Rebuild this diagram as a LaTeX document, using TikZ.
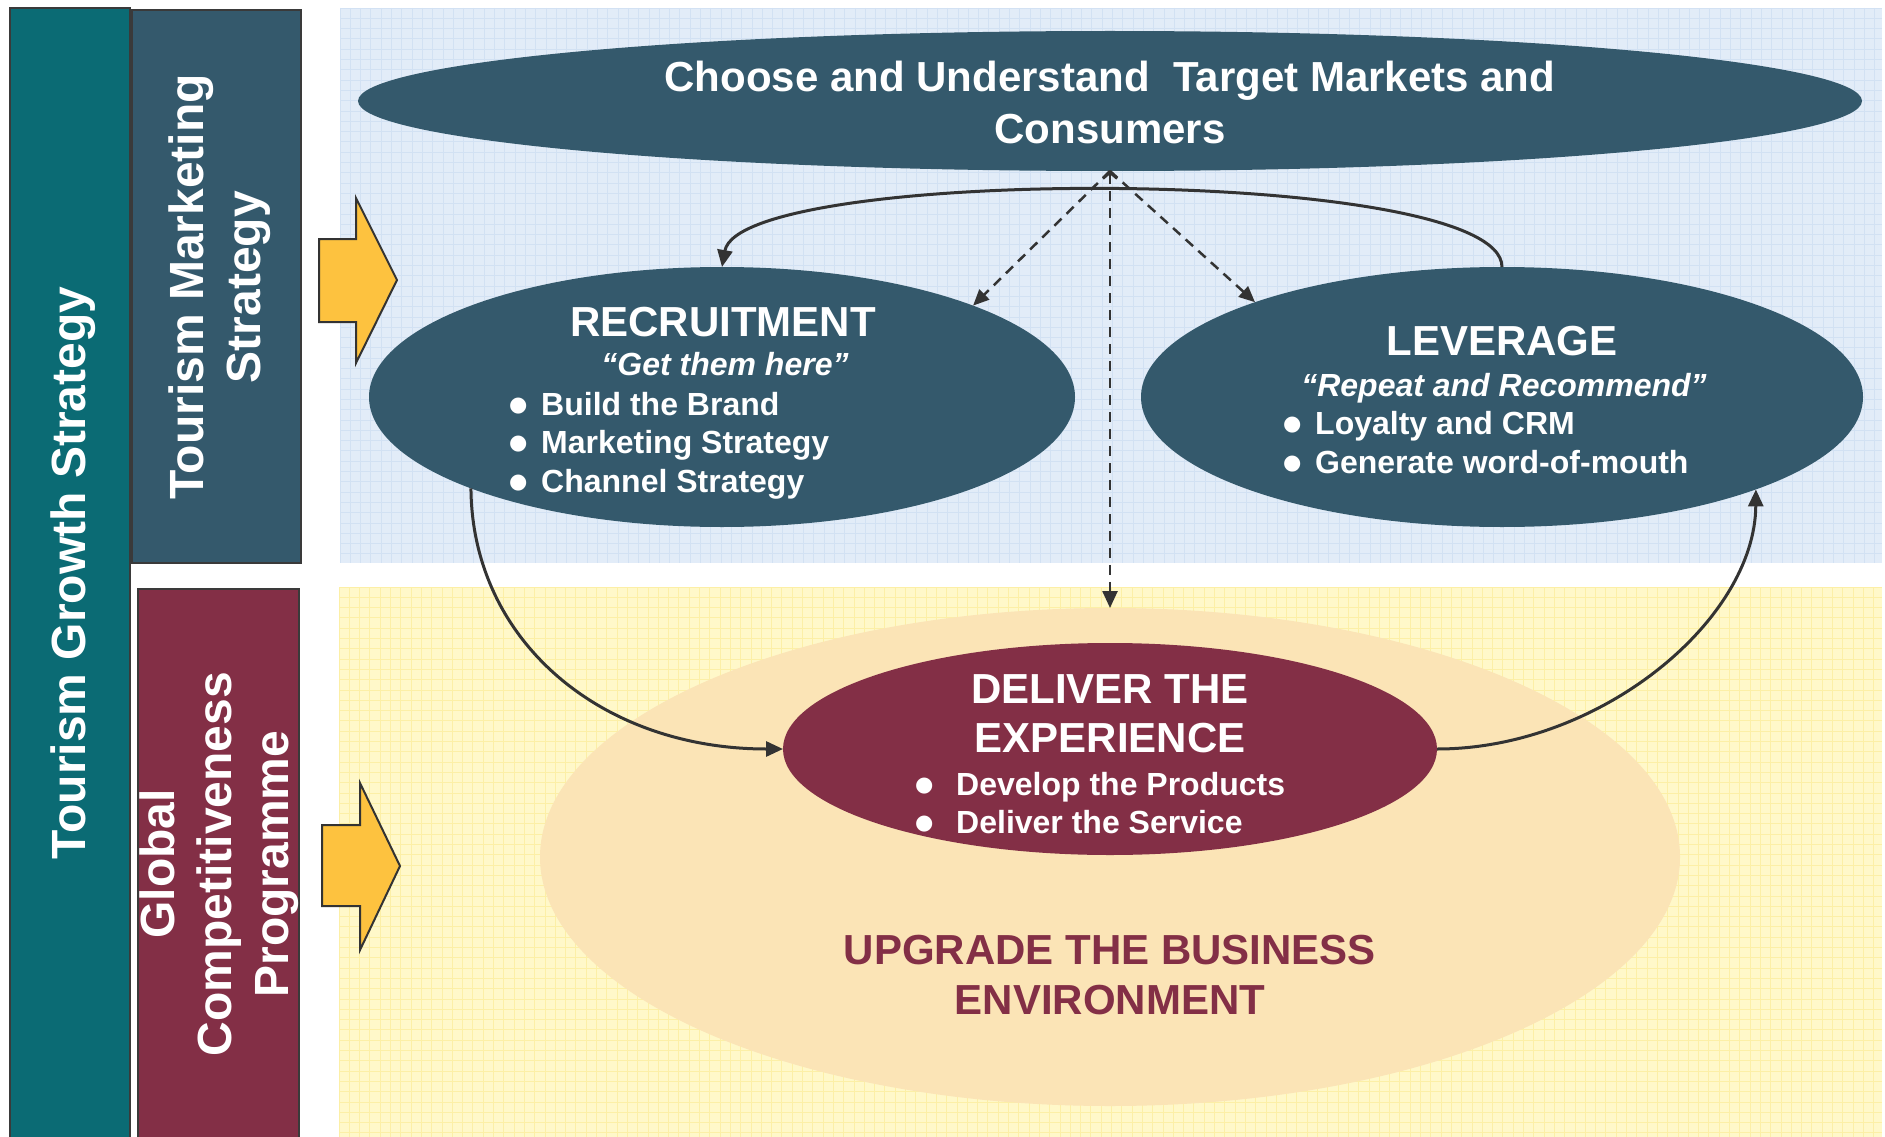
\documentclass[tikz,border=0pt]{standalone}
\usepackage{fontspec}
\setmainfont{Liberation Sans}
\newfontfamily\symfont{DejaVu Sans}
\usetikzlibrary{arrows.meta,shapes.geometric}
\definecolor{tealc}{HTML}{0B6B74}
\definecolor{slatec}{HTML}{34596C}
\definecolor{maroonc}{HTML}{832F46}
\definecolor{beigec}{HTML}{FBE4B6}
\definecolor{arrowc}{HTML}{FDC23F}
\definecolor{linec}{HTML}{333333}
\definecolor{edgec}{HTML}{3A3A3A}
\definecolor{bluebg}{HTML}{E2ECF8}
\definecolor{bluegrid}{HTML}{D2E1F3}
\definecolor{yellowbg}{HTML}{FFF8C9}
\definecolor{yellowgrid}{HTML}{FCEFA6}
\newcommand{\bigbul}{\raisebox{4pt}{\symfont\fontsize{21}{21}\selectfont ●}}
\begin{document}
\begin{tikzpicture}[x=1pt,y=-1pt,
  sidebox/.style={draw=edgec, line width=2pt},
  ell/.style={ellipse, inner sep=0pt, outer sep=0pt, fill=#1},
  vtext/.style={text=white, inner sep=0pt, rotate=90, align=center,
    font=\fontsize{48}{57}\selectfont\bfseries},
  headtext/.style={text=white, inner sep=0pt, anchor=base, align=center,
    font=\fontsize{42}{51}\selectfont\bfseries},
  quotetext/.style={text=white, inner sep=0pt, anchor=base,
    font=\fontsize{32}{38}\selectfont\bfseries\itshape},
  bultext/.style={text=white, inner sep=0pt, anchor=base west,
    font=\fontsize{32}{38}\selectfont\bfseries},
  blockarrow/.style={fill=arrowc, draw=linec, line width=2pt, line join=miter},
  conn/.style={draw=linec, line width=3pt, -{Triangle[length=17pt,width=15pt]}},
  dconn/.style={draw=linec, line width=2.5pt, dash pattern=on 10pt off 7pt,
    -{Triangle[length=16pt,width=14pt]}}
]
\clip (0,0) rectangle (1885,1137);
\fill[white] (0,0) rectangle (1885,1137);

% background panels with grid
\fill[bluebg] (340,8) rectangle (1882,563);
\begin{scope}
  \clip (340,8) rectangle (1882,563);
  \foreach \gx in {340,350.3,...,1885} \draw[bluegrid, line width=0.9pt] (\gx,8) -- (\gx,563);
  \foreach \gy in {8,18.3,...,563} \draw[bluegrid, line width=0.9pt] (340,\gy) -- (1882,\gy);
\end{scope}
\fill[yellowbg] (339,587) rectangle (1882,1137);
\begin{scope}
  \clip (339,587) rectangle (1882,1137);
  \foreach \gx in {339,349.3,...,1885} \draw[yellowgrid, line width=0.9pt] (\gx,587) -- (\gx,1137);
  \foreach \gy in {587,597.3,...,1137} \draw[yellowgrid, line width=0.9pt] (339,\gy) -- (1882,\gy);
\end{scope}

% side boxes
\draw[sidebox, fill=tealc] (10,8) rectangle (130,1145);
\draw[sidebox, fill=slatec] (132,10) rectangle (301,563);
\draw[sidebox, fill=maroonc] (138,589) rectangle (299,1145);
\node[vtext] (tgs) at (73,573) {Tourism Growth Strategy};
\node[vtext] (tms) at (220,287) {Tourism Marketing\\Strategy};
\node[vtext] (gcp) at (219,864) {Global\\Competitiveness\\Programme};

% block arrows
\draw[blockarrow] (319,239) -- (356,239) -- (356,198) -- (397,280) -- (356,363) -- (356,322) -- (319,322) -- cycle;
\draw[blockarrow] (322,825) -- (360,825) -- (360,783) -- (400,866) -- (360,950) -- (360,906) -- (322,906) -- cycle;

% ellipses
\node[ell=beigec, minimum width=1140pt, minimum height=498pt] (env) at (1110,857) {};
\node[ell=slatec, minimum width=1504pt, minimum height=140pt] (top) at (1110,101) {};
\node[ell=slatec, minimum width=706pt, minimum height=260pt] (rec) at (722,397) {};
\node[ell=slatec, minimum width=722pt, minimum height=260pt] (lev) at (1502,397) {};
\node[ell=maroonc, minimum width=654pt, minimum height=212pt] (del) at (1110,749) {};

% texts
\node[headtext] (toptxt1) at (1110,92) {Choose and Understand~ Target Markets and};
\node[headtext] (toptxt2) at (1110,144) {Consumers};

\node[headtext] (rectitle) at (723,336) {RECRUITMENT};
\node[quotetext] (recq) at (725,375) {“Get them here”};
\node[bultext] (recb1) at (509,415) {\makebox[32pt][l]{\bigbul}Build the Brand};
\node[bultext] (recb2) at (509,453) {\makebox[32pt][l]{\bigbul}Marketing Strategy};
\node[bultext] (recb3) at (509,492) {\makebox[32pt][l]{\bigbul}Channel Strategy};

\node[headtext] (levtitle) at (1502,355) {LEVERAGE};
\node[quotetext] (levq) at (1504,396) {“Repeat and Recommend”};
\node[bultext] (levb1) at (1283,434) {\makebox[32pt][l]{\bigbul}Loyalty and CRM};
\node[bultext] (levb2) at (1283,473) {\makebox[32pt][l]{\bigbul}Generate word-of-mouth};

\node[headtext] (deltitle1) at (1110,703) {DELIVER THE};
\node[headtext] (deltitle2) at (1110,752) {EXPERIENCE};
\node[bultext] (delb1) at (915,795) {\makebox[41pt][l]{\bigbul}Develop the Products};
\node[bultext] (delb2) at (915,833) {\makebox[41pt][l]{\bigbul}Deliver the Service};

\node[headtext, text=maroonc] (envt1) at (1110,964) {UPGRADE THE BUSINESS};
\node[headtext, text=maroonc] (envt2) at (1110,1014) {ENVIRONMENT};

% connectors
\draw[dconn] (top.south) -- (rec.20.5);
\draw[dconn] (top.south) -- (lev.159.5);
\draw[dconn, {Straight Barb[length=6pt,width=14pt]}-{Triangle[length=17pt,width=15pt]}] (top.south) -- (env.north);
\draw[conn] (lev.north) .. controls (1502,165) and (740,165) .. (rec.north);
\draw[conn] (rec.200) .. controls (472,640) and (600,749) .. (del.west);
\draw[conn] (del.east) .. controls (1600,749) and (1755,620) .. (lev.340);
\end{tikzpicture}
\end{document}
